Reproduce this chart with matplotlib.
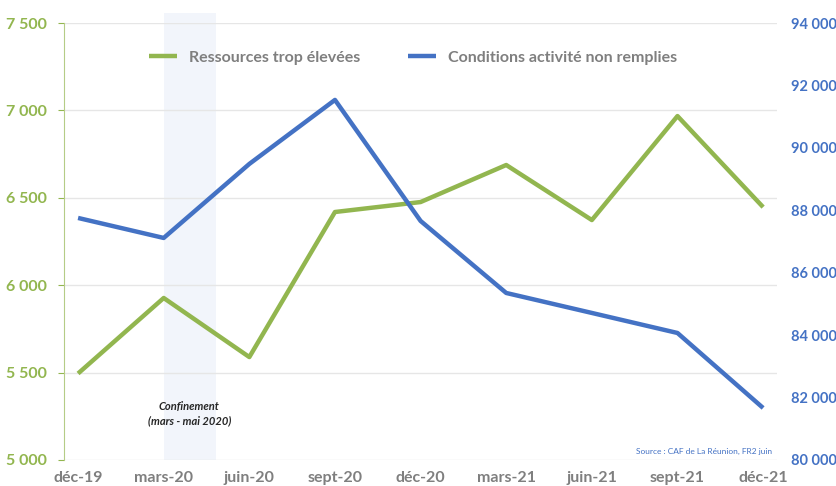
import matplotlib
matplotlib.use('Agg')
import matplotlib.pyplot as plt

# données
mois = ['déc-19', 'mars-20', 'juin-20', 'sept-20', 'déc-20', 'mars-21', 'juin-21', 'sept-21', 'déc-21']
ressources = [5495, 5927, 5589, 6419, 6476, 6688, 6373, 6968, 6447]   # axe gauche
conditions = [87756, 87115, 89487, 91538, 87660, 85352, 84712, 84070, 81667]  # axe droit
ticks_g = [5000, 5500, 6000, 6500, 7000, 7500]
ticks_d = [80000, 82000, 84000, 86000, 88000, 90000, 92000, 94000]

vert = '#92b64f'
bleu = '#4472c4'
gris = '#7f7f7f'

plt.rcParams['font.family'] = ['Lato', 'DejaVu Sans']

fig = plt.figure(figsize=(8.37, 4.86), dpi=100)
ax = fig.add_axes([0.0765, 0.0535, 0.852, 0.899])
ax2 = ax.twinx()

x = list(range(len(mois)))
ax.plot(x, ressources, color=vert, lw=3.2, solid_capstyle='butt', zorder=3, label='Ressources trop élevées')
ax2.plot(x, conditions, color=bleu, lw=3.2, solid_capstyle='butt', zorder=3, label='Conditions activité non remplies')

# période de confinement
ax.axvspan(1, 1.61, ymin=0, ymax=1.023, color='#f2f5fb', zorder=0, clip_on=False, lw=0)
ax.text(1.3, 5265, 'Confinement\n(mars - mai 2020)', ha='center', va='center',
        fontsize=8, style='italic', fontweight='bold', color='#262626', linespacing=1.3)

ax.set_xlim(-0.164, 8.164)
ax.set_ylim(5000, 7500)
ax2.set_ylim(80000, 94000)
ax.set_yticks(ticks_g)
ax2.set_yticks(ticks_d)
ax.set_yticklabels(['{:,}'.format(v).replace(',', ' ') for v in ticks_g])
ax2.set_yticklabels(['{:,}'.format(v).replace(',', ' ') for v in ticks_d])
ax.set_xticks(x)
ax.set_xticklabels(mois)

ax.grid(axis='y', color='#e6e6e6', lw=1)
ax.set_axisbelow(True)
for a in (ax, ax2):
    for s in a.spines.values():
        s.set_visible(False)
ax.spines['left'].set_visible(True)
ax.spines['left'].set_color('#b5cc86')

ax.tick_params(axis='y', colors=vert, labelsize=11.5, length=4, width=0.8, pad=8)
ax.tick_params(axis='x', colors=gris, labelsize=11.5, length=0, pad=8)
ax2.tick_params(axis='y', colors=bleu, labelsize=10.5, length=0, pad=10)
for t in ax.get_yticklabels() + ax.get_xticklabels() + ax2.get_yticklabels():
    t.set_fontweight('bold')
for t in ax.get_yticklabels():
    t.set_color(vert)

h1, l1 = ax.get_legend_handles_labels()
h2, l2 = ax2.get_legend_handles_labels()
leg = ax.legend(h1 + h2, l1 + l2, loc='upper center', bbox_to_anchor=(0.49, 0.97), ncol=2,
                frameon=False, fontsize=11.5, handlelength=1.7, columnspacing=3.0, handletextpad=0.8)
for t in leg.get_texts():
    t.set_color(gris)
    t.set_fontweight('bold')

ax.text(0.993, 0.012, 'Source : CAF de La Réunion, FR2 juin', transform=ax.transAxes,
        ha='right', va='bottom', fontsize=6, color=bleu)

fig.savefig('out.png', dpi=100)
